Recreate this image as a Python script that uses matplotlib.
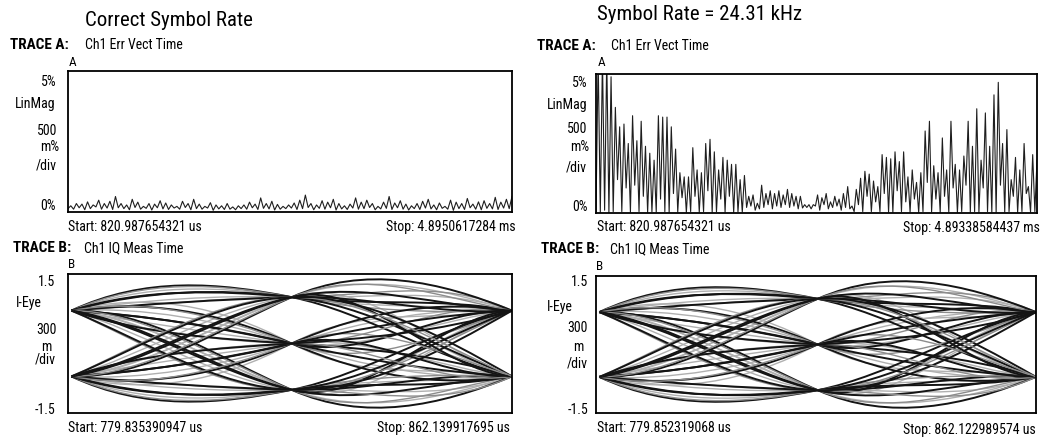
import numpy as np
import matplotlib.pyplot as plt
from matplotlib import font_manager
from matplotlib.path import Path
from matplotlib.patches import PathPatch

W, H = 1040, 437

# narrow sans if we have one
names = {f.name for f in font_manager.fontManager.ttflist}
family = None
for name in ['Liberation Sans Narrow', 'Roboto Condensed', 'Open Sans Condensed']:
    if name in names:
        family = name
        break
if family is None:
    plt.rcParams['font.family'] = 'DejaVu Sans'
    plt.rcParams['font.stretch'] = 'condensed'
else:
    plt.rcParams['font.family'] = family

# ---- data ----
# Err Vect Time, correct symbol rate (%), peaks and dips between them
evm_ok_peaks = [0.22, 0.30, 0.28, 0.36, 0.25, 0.42, 0.30, 0.38, 0.55, 0.30,
                0.25, 0.45, 0.35, 0.20, 0.30, 0.28, 0.40, 0.32, 0.25, 0.20,
                0.38, 0.30, 0.45, 0.28, 0.20, 0.33, 0.25, 0.22, 0.30, 0.18,
                0.22, 0.25, 0.35, 0.28, 0.50, 0.30, 0.38, 0.27, 0.20, 0.25,
                0.32, 0.42, 0.60, 0.30, 0.25, 0.40, 0.35, 0.45, 0.30, 0.22,
                0.28, 0.50, 0.35, 0.42, 0.30, 0.20, 0.35, 0.55, 0.32, 0.40,
                0.28, 0.22, 0.30, 0.38, 0.45, 0.25, 0.32, 0.20, 0.42, 0.35,
                0.30, 0.48, 0.28, 0.36, 0.40, 0.30, 0.52, 0.35, 0.45, 0.55]
evm_ok_dips = [0.12, 0.10, 0.15, 0.08, 0.12, 0.18, 0.10, 0.14, 0.09, 0.15,
               0.12, 0.08, 0.16, 0.10, 0.13, 0.07, 0.15, 0.11, 0.09, 0.14,
               0.10, 0.16, 0.08, 0.12, 0.10, 0.14, 0.06, 0.11, 0.09, 0.10,
               0.08, 0.12, 0.10, 0.15, 0.09, 0.13, 0.11, 0.07, 0.10, 0.12,
               0.14, 0.09, 0.12, 0.16, 0.08, 0.13, 0.10, 0.15, 0.07, 0.11,
               0.09, 0.14, 0.10, 0.12, 0.16, 0.08, 0.11, 0.13, 0.09, 0.15,
               0.10, 0.07, 0.12, 0.09, 0.14, 0.11, 0.08, 0.13, 0.10, 0.06,
               0.12, 0.09, 0.15, 0.10, 0.08, 0.13, 0.11, 0.09, 0.14, 0.12]

# Err Vect Time, symbol rate = 24.31 kHz (%)
evm_bad_peaks = [5.6, 5.6, 5.6, 4.9, 3.8, 3.1, 3.2, 2.5, 3.5, 2.6,
                 3.3, 2.4, 2.15, 1.9, 3.5, 3.45, 3.45, 3.1, 2.3, 1.45,
                 1.3, 1.3, 2.35, 1.55, 1.45, 2.5, 2.65, 2.2, 1.55, 2.0,
                 1.9, 1.75, 1.75, 1.2, 1.35, 0.6, 0.65, 0.35, 1.0, 0.7,
                 0.8, 0.7, 0.8, 0.65, 0.85, 0.7, 0.6, 0.6, 0.3, 0.3,
                 0.3, 0.65, 0.55, 0.7, 0.4, 0.6, 0.5, 0.7, 0.95, 0.25,
                 0.85, 1.25, 1.5, 1.4, 1.15, 0.95, 2.1, 2.0, 1.95, 2.2,
                 1.85, 2.2, 1.3, 1.55, 1.1, 1.45, 2.95, 3.3, 1.7, 1.45,
                 2.7, 1.55, 3.3, 1.75, 1.55, 2.05, 3.3, 2.4, 3.75, 1.9,
                 3.6, 2.4, 4.25, 4.7, 2.5, 3.0, 1.2, 2.0, 1.55, 2.5,
                 0.95, 2.1, 1.9]
evm_bad_dips = [0.05, 0.02, 0.1, 0.0, 0.05, 1.2, 0.05, 0.9, 0.03, 1.0,
                0.05, 0.6, 0.02, 0.04, 0.03, 0.5, 0.05, 0.02, 0.7, 0.03,
                0.55, 0.02, 0.05, 0.6, 0.03, 0.05, 0.8, 0.02, 0.04, 0.5,
                0.03, 0.6, 0.02, 0.04, 0.03, 0.2, 0.25, 0.1, 0.15, 0.2,
                0.3, 0.15, 0.25, 0.2, 0.3, 0.2, 0.25, 0.15, 0.18, 0.2,
                0.15, 0.25, 0.1, 0.3, 0.15, 0.2, 0.25, 0.1, 0.2, 0.15,
                0.05, 0.3, 0.05, 0.6, 0.05, 0.4, 0.05, 0.7, 0.03, 0.02,
                0.8, 0.05, 0.4, 0.03, 0.5, 0.02, 0.05, 1.1, 0.04, 0.5,
                0.02, 0.6, 0.03, 0.9, 0.02, 0.05, 1.0, 0.03, 0.05, 0.02,
                0.9, 0.05, 0.03, 0.02, 1.0, 0.03, 0.05, 0.6, 0.02, 0.05,
                0.7, 0.03, 0.05]

# I-eye traces over two symbols: level at symbol 0, two shape points,
# level at symbol 1, two shape points, level at symbol 2
eye_traces = [
    [0.71, 1.45, 1.32, 1.0, 0.68, -0.35, -0.71],
    [0.71, 1.40, 1.30, 1.0, 0.70, 0.65, 0.71],
    [0.71, 1.15, 1.20, 1.0, 0.80, 1.00, 0.71],
    [0.71, 1.20, 1.15, 1.0, 0.85, -0.10, -0.71],
    [0.71, 0.80, 1.00, 1.0, 1.00, 1.45, 0.71],
    [0.71, 0.85, 0.95, 1.0, 1.05, 0.20, -0.71],
    [0.71, 0.95, 0.70, 0.0, -0.70, -0.95, -0.71],
    [0.71, 1.00, 0.60, 0.0, -0.60, 0.20, 0.71],
    [0.71, 0.62, 0.35, 0.0, -0.35, -0.62, -0.71],
    [0.71, 0.60, 0.38, 0.0, -0.38, 0.75, 0.71],
    [0.71, 0.25, 0.05, 0.0, -0.05, 0.95, 0.71],
    [0.71, 0.20, 0.10, 0.0, -0.10, -0.25, -0.71],
    [0.71, 0.75, -0.30, -1.0, -1.70, -1.35, -0.71],
    [0.71, 0.70, -0.35, -1.0, -1.65, -1.00, -0.71],
    [0.71, 0.40, -0.65, -1.0, -1.35, -0.80, -0.71],
    [0.71, 0.45, -0.60, -1.0, -1.40, 0.60, 0.71],
    [0.71, 0.00, -1.00, -1.0, -1.00, 0.00, 0.71],
    [0.71, 0.05, -0.95, -1.0, -1.05, -0.60, -0.71],
    [-0.71, -1.45, -1.32, -1.0, -0.68, 0.35, 0.71],
    [-0.71, -1.40, -1.30, -1.0, -0.70, -0.65, -0.71],
    [-0.71, -1.15, -1.20, -1.0, -0.80, -1.00, -0.71],
    [-0.71, -1.20, -1.15, -1.0, -0.85, 0.10, 0.71],
    [-0.71, -0.80, -1.00, -1.0, -1.00, -1.45, -0.71],
    [-0.71, -0.85, -0.95, -1.0, -1.05, -0.20, 0.71],
    [-0.71, -0.95, -0.70, 0.0, 0.70, 0.95, 0.71],
    [-0.71, -1.00, -0.60, 0.0, 0.60, -0.20, -0.71],
    [-0.71, -0.62, -0.35, 0.0, 0.35, 0.62, 0.71],
    [-0.71, -0.60, -0.38, 0.0, 0.38, -0.75, -0.71],
    [-0.71, -0.25, -0.05, 0.0, 0.05, -0.95, -0.71],
    [-0.71, -0.20, -0.10, 0.0, 0.10, 0.25, 0.71],
    [-0.71, -0.75, 0.30, 1.0, 1.70, 1.35, 0.71],
    [-0.71, -0.70, 0.35, 1.0, 1.65, 1.00, 0.71],
    [-0.71, -0.40, 0.65, 1.0, 1.35, 0.80, 0.71],
    [-0.71, -0.45, 0.60, 1.0, 1.40, -0.60, -0.71],
    [-0.71, 0.00, 1.00, 1.0, 1.00, 0.00, -0.71],
    [-0.71, -0.05, 0.95, 1.0, 1.05, 0.60, 0.71],
]
# fainter traces that thicken the bundles
eye_faint = [
    [0.71, 1.30, 1.25, 1.0, 0.75, 0.85, 0.71],
    [0.71, 0.95, 1.05, 1.0, 0.95, 1.25, 0.71],
    [0.71, 0.80, 0.50, 0.0, -0.50, -0.80, -0.71],
    [0.71, 0.45, 0.20, 0.0, -0.20, 0.55, 0.71],
    [0.71, 0.55, -0.45, -1.0, -1.55, -1.20, -0.71],
    [0.71, 0.25, -0.80, -1.0, -1.20, 0.30, 0.71],
    [0.71, 1.10, 0.85, 0.0, -0.85, -0.45, -0.71],
    [0.71, 0.60, -0.50, -1.0, -1.50, 0.20, 0.71],
    [-0.71, -1.30, -1.25, -1.0, -0.75, -0.85, -0.71],
    [-0.71, -0.95, -1.05, -1.0, -0.95, -1.25, -0.71],
    [-0.71, -0.80, -0.50, 0.0, 0.50, 0.80, 0.71],
    [-0.71, -0.45, -0.20, 0.0, 0.20, -0.55, -0.71],
    [-0.71, -0.55, 0.45, 1.0, 1.55, 1.20, 0.71],
    [-0.71, -0.25, 0.80, 1.0, 1.20, -0.30, -0.71],
    [-0.71, -1.10, -0.85, 0.0, 0.85, 0.45, 0.71],
    [-0.71, -0.60, 0.50, 1.0, 1.50, -0.20, -0.71],
]
eye_symbols = [0, 1 / 3, 2 / 3, 1, 4 / 3, 5 / 3, 2]

fig = plt.figure(figsize=(W / 100, H / 100), dpi=100)


def put(x, y, s, size=10, ha='left', weight='normal'):
    fig.text(x / W, 1 - y / H, s, fontsize=size, ha=ha, va='center', fontweight=weight)


def box(x0, y0, x1, y1):
    ax = fig.add_axes([x0 / W, 1 - y1 / H, (x1 - x0) / W, (y1 - y0) / H])
    ax.set_xticks([])
    ax.set_yticks([])
    for s in ax.spines.values():
        s.set_linewidth(1.3)
    return ax


def evm_plot(ax, peaks, dips):
    v = np.column_stack((dips, peaks)).ravel()
    ax.plot(np.arange(len(v)), v, color='#1e1e1e', lw=0.8)
    ax.set_xlim(0, len(v) - 1)
    ax.set_ylim(0, 5)


def eye_plot(ax):
    codes = [Path.MOVETO] + [Path.CURVE4] * 6
    for tr in eye_faint:
        p = Path(np.column_stack((eye_symbols, tr)), codes)
        ax.add_patch(PathPatch(p, facecolor='none', edgecolor='#b0b0b0', lw=1.0))
    for i, tr in enumerate(eye_traces):
        dark = i % 3 != 1
        p = Path(np.column_stack((eye_symbols, tr)), codes)
        ax.add_patch(PathPatch(p, facecolor='none',
                               edgecolor='#141414' if dark else '#8c8c8c',
                               lw=1.4 if dark else 1.0))
    ax.set_xlim(-0.015, 2.0)
    ax.set_ylim(-1.5, 1.5)


# left half: correct symbol rate
put(85, 21, 'Correct Symbol Rate', size=15)
put(10, 45, 'TRACE A:', size=11, weight='bold')
put(85, 45, 'Ch1 Err Vect Time', size=10)
put(69, 62, 'A', size=9.5)
axa = box(68, 71, 512, 212)
evm_plot(axa, evm_ok_peaks, evm_ok_dips)
put(57, 82, '5%', ha='right')
put(55, 104, 'LinMag', ha='right')
put(57, 131, '500', ha='right')
put(59, 147, 'm%', ha='right')
put(57, 166, '/div', ha='right')
put(56, 206, '0%', ha='right')
put(68, 227, 'Start: 820.987654321 us')
put(516, 227, 'Stop: 4.8950617284 ms', ha='right')

put(13, 248, 'TRACE B:', size=11, weight='bold')
put(84, 248, 'Ch1 IQ Meas Time', size=10)
put(68, 264, 'B', size=9.5)
axb = box(68, 274, 512, 413)
eye_plot(axb)
put(55, 282, '1.5', ha='right')
put(42, 303, 'I-Eye', ha='right')
put(57, 330, '300', ha='right')
put(51, 347, 'm', ha='right')
put(56, 360, '/div', ha='right')
put(55, 410, '-1.5', ha='right')
put(68, 428, 'Start: 779.835390947 us')
put(510, 428, 'Stop: 862.139917695 us', ha='right')

# right half: symbol rate off
put(597, 15, 'Symbol Rate = 24.31 kHz', size=15)
put(537, 46, 'TRACE A:', size=11, weight='bold')
put(611, 46, 'Ch1 Err Vect Time', size=10)
put(598, 63, 'A', size=9.5)
axc = box(596, 74, 1037, 213)
evm_plot(axc, evm_bad_peaks, evm_bad_dips)
put(588, 83, '5%', ha='right')
put(587, 105, 'LinMag', ha='right')
put(587, 129, '500', ha='right')
put(589, 147, 'm%', ha='right')
put(587, 167, '/div', ha='right')
put(588, 207, '0%', ha='right')
put(597, 227, 'Start: 820.987654321 us')
put(1040, 228, 'Stop: 4.89338584437 ms', ha='right')

put(541, 249, 'TRACE B:', size=11, weight='bold')
put(610, 249, 'Ch1 IQ Meas Time', size=10)
put(596, 267, 'B', size=9.5)
axd = box(596, 276, 1036, 413)
eye_plot(axd)
put(588, 282, '1.5', ha='right')
put(573, 307, 'I-Eye', ha='right')
put(588, 328, '300', ha='right')
put(583, 347, 'm', ha='right')
put(588, 363, '/div', ha='right')
put(588, 410, '-1.5', ha='right')
put(597, 428, 'Start: 779.852319068 us')
put(1036, 430, 'Stop: 862.122989574 us', ha='right')

fig.savefig('out.png', dpi=100)
